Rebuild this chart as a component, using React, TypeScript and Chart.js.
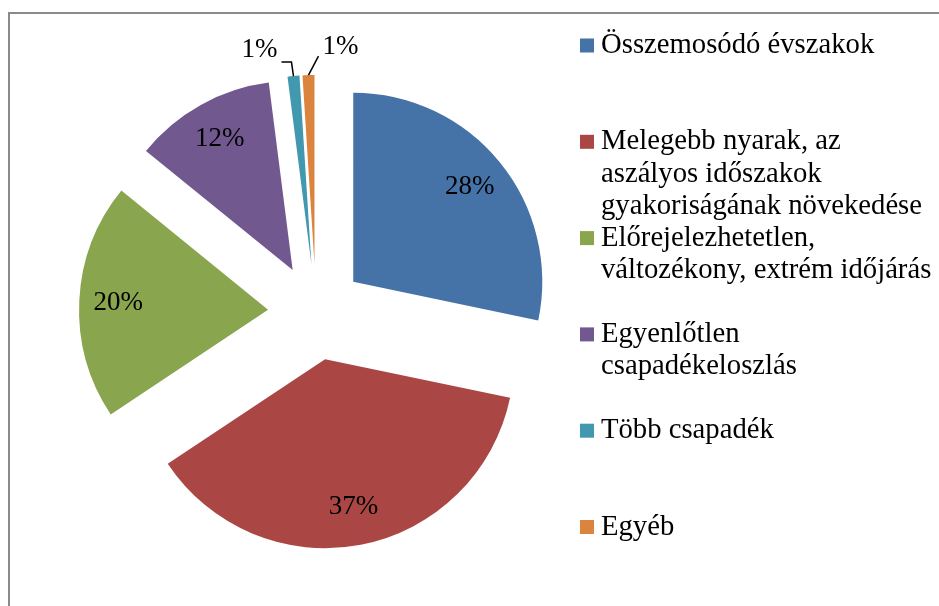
import React, { useEffect, useRef } from "react";
import { Chart, registerables } from "chart.js";

Chart.register(...registerables);

const categories: string[][] = [
  ["Összemosódó évszakok"],
  ["Melegebb nyarak, az", "aszályos időszakok", "gyakoriságának növekedése"],
  ["Előrejelezhetetlen,", "változékony, extrém időjárás"],
  ["Egyenlőtlen", "csapadékeloszlás"],
  ["Több csapadék"],
  ["Egyéb"],
];
const values = [28, 37, 20, 12, 1, 1];
const percentLabels = ["28%", "37%", "20%", "12%", "1%", "1%"];
const colors = ["#4572A7", "#AA4643", "#89A54E", "#71588F", "#4198AF", "#DB843D"];

const FONT = '"Liberation Serif", "Times New Roman", serif';
const EXPLODE = 48;
const LABEL_DIST = 150;

const piePlugin = {
  id: "explodedPie",
  beforeDraw(chart: any) {
    const ctx = chart.ctx;
    ctx.save();
    ctx.fillStyle = "#ffffff";
    ctx.fillRect(0, 0, chart.width, chart.height);
    ctx.strokeStyle = "#8a8a8a";
    ctx.lineWidth = 2;
    ctx.beginPath();
    ctx.moveTo(9, chart.height + 2);
    ctx.lineTo(9, 13);
    ctx.lineTo(chart.width + 2, 13);
    ctx.stroke();
    ctx.restore();
  },
  beforeDatasetDraw(chart: any, args: any) {
    const ctx = chart.ctx;
    args.meta.data.forEach((arc: any) => {
      const h = (arc.startAngle + arc.endAngle) / 2;
      ctx.save();
      ctx.translate(Math.cos(h) * EXPLODE, Math.sin(h) * EXPLODE);
      arc.draw(ctx);
      ctx.restore();
    });
    return false;
  },
  afterDraw(chart: any) {
    const ctx = chart.ctx;
    const meta = chart.getDatasetMeta(0);
    ctx.save();
    ctx.fillStyle = "#000";
    ctx.strokeStyle = "#000";
    ctx.font = `27px ${FONT}`;
    ctx.textAlign = "center";
    ctx.textBaseline = "middle";
    meta.data.forEach((arc: any, i: number) => {
      const h = (arc.startAngle + arc.endAngle) / 2;
      const cx = Math.cos(h);
      const cy = Math.sin(h);
      if (values[i] >= 5) {
        const d = EXPLODE + LABEL_DIST;
        ctx.fillText(percentLabels[i], arc.x + cx * d, arc.y + cy * d);
      } else {
        const d = EXPLODE + arc.outerRadius;
        const px = arc.x + cx * d;
        const py = arc.y + cy * d;
        ctx.lineWidth = 1.5;
        ctx.beginPath();
        if (i === 4) {
          ctx.moveTo(px, py);
          ctx.lineTo(px - 2, py - 14);
          ctx.lineTo(px - 12, py - 14);
          ctx.stroke();
          ctx.fillText(percentLabels[i], px - 34, py - 26);
        } else {
          ctx.moveTo(px, py);
          ctx.lineTo(px + 10, py - 19);
          ctx.stroke();
          ctx.fillText(percentLabels[i], px + 32, py - 28);
        }
      }
    });

    // legend
    ctx.textAlign = "left";
    ctx.font = `28.7px ${FONT}`;
    categories.forEach((lines, i) => {
      const yc = 45.5 + 96.3 * i;
      ctx.fillStyle = colors[i];
      ctx.fillRect(580, yc - 7, 14, 14);
      ctx.fillStyle = "#000";
      lines.forEach((ln, j) => {
        ctx.fillText(ln, 601, yc + 32.5 * j);
      });
    });
    ctx.restore();
  },
};

export default function App() {
  const ref = useRef<HTMLCanvasElement | null>(null);
  useEffect(() => {
    if (!ref.current) return;
    const chart = new Chart(ref.current, {
      type: "pie",
      data: {
        labels: categories.map((l) => l.join(" ")),
        datasets: [
          {
            data: values,
            backgroundColor: colors,
            borderWidth: 0,
            radius: 189,
          } as any,
        ],
      },
      options: {
        animation: false,
        responsive: false,
        events: [],
        layout: { padding: { left: 0, right: 307, top: 18, bottom: 0 } },
        plugins: {
          legend: { display: false },
          tooltip: { enabled: false },
        },
      } as any,
      plugins: [piePlugin],
    });
    return () => chart.destroy();
  }, []);
  return (
    <div style={{ position: "absolute", left: 0, top: 0, width: 939, height: 606, background: "#fff" }}>
      <canvas ref={ref} width={939} height={606} style={{ display: "block" }} />
    </div>
  );
}
